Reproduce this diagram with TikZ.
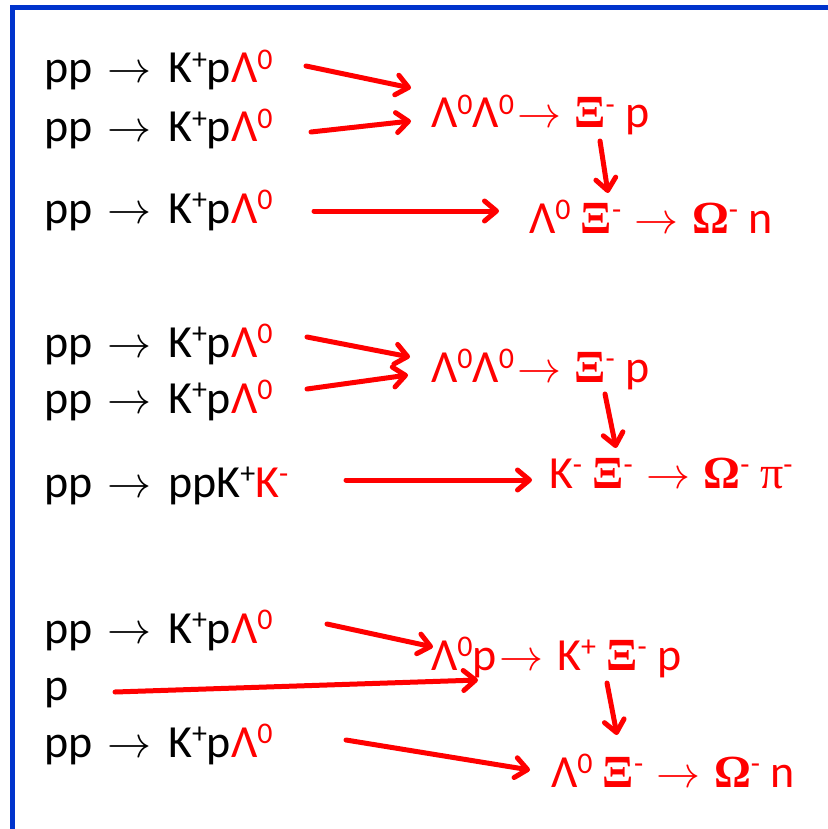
\documentclass[tikz,border=0pt]{standalone}
\usepackage{graphicx}
\usepackage{fontspec}
\setmainfont{Carlito}
\newfontfamily\grserif{Liberation Serif}
\usetikzlibrary{arrows.meta}
\definecolor{frameblue}{RGB}{0,51,204}
\definecolor{pred}{RGB}{255,0,0}
\newcommand\sups[1]{\raisebox{13.5pt}{\fontsize{30}{31}\selectfont #1}}
\newcommand\rar{\kern3pt\resizebox{44pt}{!}{\fontsize{10}{12}\selectfont$\rightarrow$}\kern3pt}
\newcommand\brar{\kern5pt\resizebox{44pt}{!}{\fontsize{10}{12}\selectfont$\rightarrow$}\kern6pt}
\newcommand\GXi{{\grserif\bfseries Ξ}}
\newcommand\GOm{{\grserif\bfseries Ω}}
\newcommand\Gpi{{\grserif π}}
\newcommand\LamZ{{\color{pred}Λ\sups{0}}}
\tikzset{
  txt/.style={anchor=base west, inner sep=0pt, outer sep=0pt, font=\fontsize{46}{52}\selectfont},
  rtxt/.style={txt, text=pred},
  flow/.style={draw=pred, line width=5pt, line cap=round,
    -{Straight Barb[length=12pt,width=20pt,round]}},
  frame/.style={draw=frameblue, line width=5pt}
}
\begin{document}
\begin{tikzpicture}[x=1pt,y=-1pt]
\useasboundingbox (0,0) rectangle (827,829);
\draw[frame] (12,835) -- (12,7.5) -- (835,7.5);

% group 1
\node[txt] (a1) at (44,83) {pp \brar{} K\sups{+}p\LamZ};
\node[txt] (a2) at (44,142) {pp \brar{} K\sups{+}p\LamZ};
\node[txt] (a3) at (44,223) {pp \brar{} K\sups{+}p\LamZ};
\node[rtxt] (r1) at (431,128) {Λ\sups{0}Λ\sups{0}\rar{} \GXi\sups{-} p};
\node[rtxt] (r2) at (529,233) {Λ\sups{0} \GXi\sups{-} \rar{} \GOm\sups{-} n};
\coordinate (a1s) at (306,66);  \coordinate (a1e) at (411,88);
\coordinate (a2s) at (311,132); \coordinate (a2e) at (411,121);
\coordinate (a3s) at (314,211); \coordinate (a3e) at (499,211);
\coordinate (r1s) at (600,141); \coordinate (r1e) at (608,193);
\draw[flow] (a1s) -- (a1e);
\draw[flow] (a2s) -- (a2e);
\draw[flow] (a3s) -- (a3e);
\draw[flow] (r1s) -- (r1e);

% group 2
\node[txt] (b1) at (44,357) {pp \brar{} K\sups{+}p\LamZ};
\node[txt] (b2) at (44,413) {pp \brar{} K\sups{+}p\LamZ};
\node[txt] (b3) at (44,497) {pp \brar{} ppK\sups{+}{\color{pred}K\sups{-}}};
\node[rtxt] (s1) at (431,382) {Λ\sups{0}Λ\sups{0}\rar{} \GXi\sups{-} p};
\node[rtxt] (s2) at (549,488) {K\sups{-} \GXi\sups{-} \rar{} \GOm\sups{-} \Gpi\sups{-}};
\coordinate (b1s) at (307,337); \coordinate (b1e) at (410,357);
\coordinate (b2s) at (307,389); \coordinate (b2e) at (408,375);
\coordinate (b3s) at (346,480); \coordinate (b3e) at (532,480);
\coordinate (s1s) at (605,394); \coordinate (s1e) at (616,448);
\draw[flow] (b1s) -- (b1e);
\draw[flow] (b2s) -- (b2e);
\draw[flow] (b3s) -- (b3e);
\draw[flow] (s1s) -- (s1e);

% group 3
\node[txt] (c1) at (44,643) {pp \brar{} K\sups{+}p\LamZ};
\node[txt] (c2) at (44,700) {p};
\node[txt] (c3) at (44,757) {pp \brar{} K\sups{+}p\LamZ};
\node[rtxt] (t1) at (431,670) {Λ\sups{0}p\rar{} K\sups{+} \GXi\sups{-} p};
\node[rtxt] (t2) at (551,787) {Λ\sups{0} \GXi\sups{-} \rar{} \GOm\sups{-} n};
\coordinate (c1s) at (327,624); \coordinate (c1e) at (433,647);
\coordinate (c2s) at (115,692); \coordinate (c2e) at (478,680);
\coordinate (c3s) at (346,740); \coordinate (c3e) at (530,770);
\coordinate (t1s) at (607,683); \coordinate (t1e) at (617,735);
\draw[flow] (c1s) -- (c1e);
\draw[flow] (c2s) -- (c2e);
\draw[flow] (c3s) -- (c3e);
\draw[flow] (t1s) -- (t1e);
\end{tikzpicture}
\end{document}
